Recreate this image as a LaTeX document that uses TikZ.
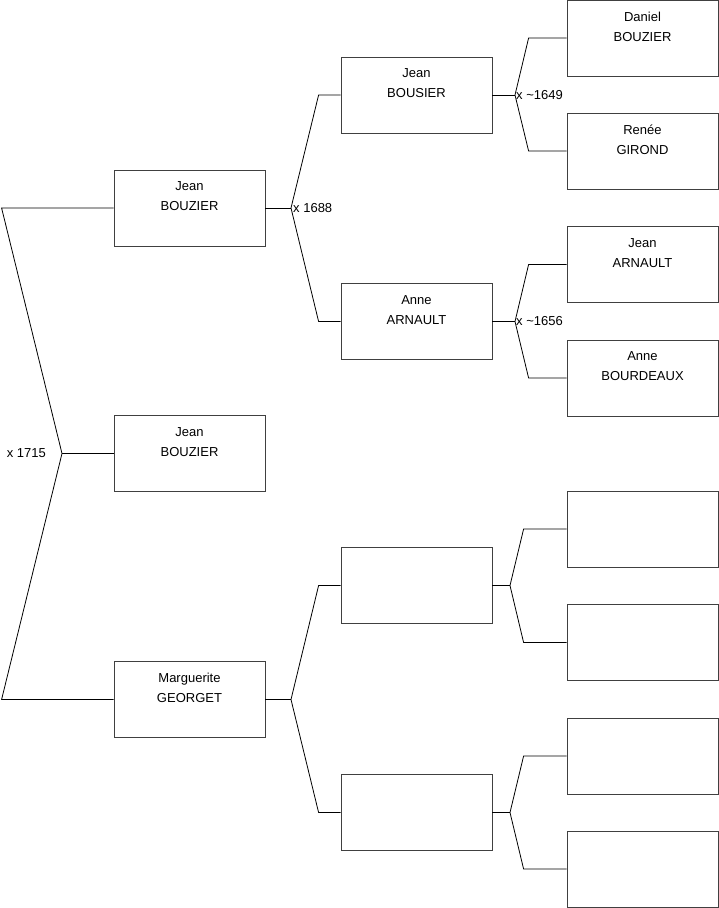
\documentclass[tikz,border=0pt]{standalone}
\usepackage{fontspec}
\setmainfont{Liberation Sans}
\usetikzlibrary{positioning}
\tikzset{
	box/.style={draw=black!75, line width=0.8pt, minimum width=151pt, minimum height=76pt, inner sep=0pt},
	txt/.style={anchor=north, align=center, inner sep=0pt, yshift=-12pt, font={\fontsize{13}{20}\selectfont}},
	mar/.style={inner sep=0pt, font={\fontsize{13}{15}\selectfont}},
	link/.style={line width=0.8pt, black},
}
\newcommand{\who}[3]{\node[box, label={[txt]north:#2}] (#1) at #3 {};}

\begin{document}
\begin{tikzpicture}[x=1pt, y=-1pt]
	\useasboundingbox (0,0) rectangle (719,908);

	% generation 1
	\who{jb}{Jean\\BOUZIER}{(189.5,208)}
	\who{me}{Jean\\BOUZIER}{(189.5,453.5)}
	\who{mg}{Marguerite\\GEORGET}{(189.5,699.5)}

	% generation 2
	\who{jbs}{Jean\\BOUSIER}{(416.5,95)}
	\who{aa}{Anne\\ARNAULT}{(416.5,321.5)}
	\node[box] (p3) at (416.5,585.5) {};
	\node[box] (p4) at (416.5,812.5) {};

	% generation 3
	\who{db}{Daniel\\BOUZIER}{(642.5,38)}
	\who{rg}{Renée\\GIROND}{(642.5,151)}
	\who{ja}{Jean\\ARNAULT}{(642.5,264.5)}
	\who{ab}{Anne\\BOURDEAUX}{(642.5,378)}
	\node[box] (g5) at (642.5,529) {};
	\node[box] (g6) at (642.5,642.5) {};
	\node[box] (g7) at (642.5,756) {};
	\node[box] (g8) at (642.5,869) {};

	% brackets
	\coordinate (j0) at (62,453.5);
	\coordinate (j1) at (291,208);
	\coordinate (j2) at (515,95);
	\coordinate (j3) at (515,321.5);
	\coordinate (j4) at (291,699.5);
	\coordinate (j5) at (510,585.5);
	\coordinate (j6) at (510,812.5);

	\draw[link] (jb.west) -- ([xshift=-112pt]jb.west) -- (j0) -- ([xshift=-112pt]mg.west) -- (mg.west);
	\draw[link] (j0) -- (me.west);
	\node[mar, anchor=east] (m0) at ([xshift=-16pt]j0) {x 1715};

	\draw[link] (jb.east) -- (j1);
	\draw[link] (jbs.west) -- ([xshift=-22pt]jbs.west) -- (j1) -- ([xshift=-22pt]aa.west) -- (aa.west);
	\node[mar, anchor=west] (m1) at ([xshift=2pt]j1) {x 1688};

	\draw[link] (jbs.east) -- (j2);
	\draw[link] (db.west) -- ([xshift=-38pt]db.west) -- (j2) -- ([xshift=-38pt]rg.west) -- (rg.west);
	\node[mar, anchor=west] (m2) at ([xshift=1pt]j2) {x \textasciitilde1649};

	\draw[link] (aa.east) -- (j3);
	\draw[link] (ja.west) -- ([xshift=-38pt]ja.west) -- (j3) -- ([xshift=-38pt]ab.west) -- (ab.west);
	\node[mar, anchor=west] (m3) at ([xshift=1pt]j3) {x \textasciitilde1656};

	\draw[link] (mg.east) -- (j4);
	\draw[link] (p3.west) -- ([xshift=-22pt]p3.west) -- (j4) -- ([xshift=-22pt]p4.west) -- (p4.west);

	\draw[link] (p3.east) -- (j5);
	\draw[link] (g5.west) -- ([xshift=-43pt]g5.west) -- (j5) -- ([xshift=-43pt]g6.west) -- (g6.west);

	\draw[link] (p4.east) -- (j6);
	\draw[link] (g7.west) -- ([xshift=-43pt]g7.west) -- (j6) -- ([xshift=-43pt]g8.west) -- (g8.west);
\end{tikzpicture}
\end{document}
